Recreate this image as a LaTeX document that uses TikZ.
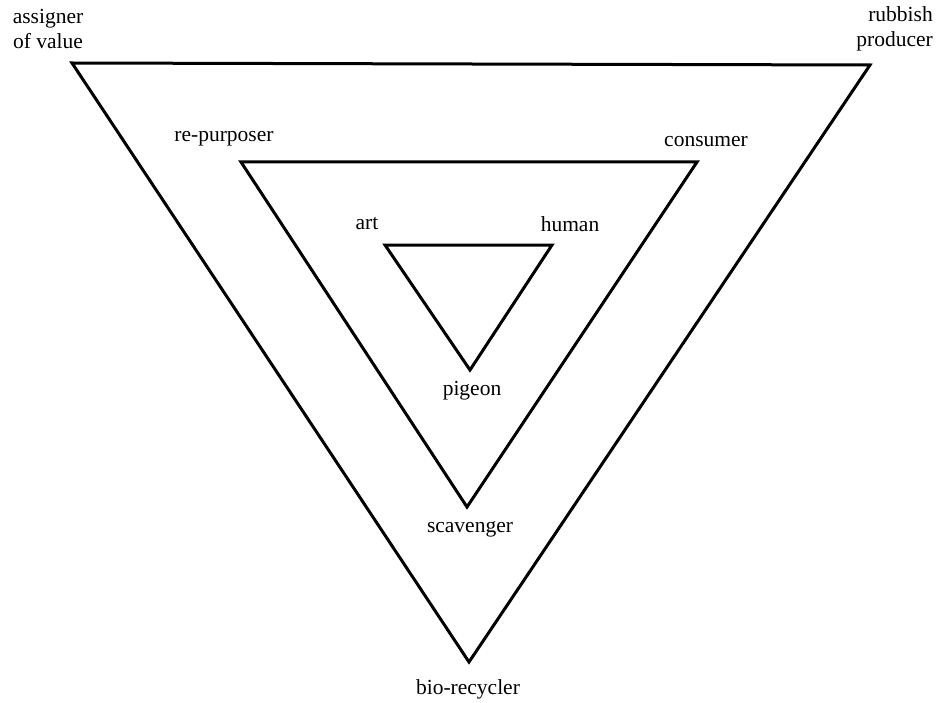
\documentclass[tikz,border=0pt]{standalone}
\usepackage{fontspec}
\setmainfont{Liberation Serif}
\begin{document}
\begin{tikzpicture}[x=1pt,y=-1pt,
  tri/.style={line width=3pt,line join=miter},
  lbl/.style={font=\fontsize{21.5}{25}\selectfont,inner sep=0pt}]
\useasboundingbox (0,0) rectangle (941,703);
\fill[white] (0,0) rectangle (941,703);
% outer
\coordinate (o1) at (72,63);
\coordinate (o2) at (870,65);
\coordinate (o3) at (469,662);
% middle
\coordinate (m1) at (241,162);
\coordinate (m2) at (697,162);
\coordinate (m3) at (467,507);
% inner
\coordinate (i1) at (385,245);
\coordinate (i2) at (552,245);
\coordinate (i3) at (470,370);
\draw[tri] (o1) -- (o2) -- (o3) -- cycle;
\draw[tri] (m1) -- (m2) -- (m3) -- cycle;
\draw[tri] (i1) -- (i2) -- (i3) -- cycle;
\node[lbl,align=center] (av) at (48,29) {assigner\\of value};
\node[lbl,align=right,anchor=east] (rp) at (933,29) {rubbish\\producer};
\node[lbl] (rep) at (224,139) {re-purposer};
\node[lbl] (con) at (706,142) {consumer};
\node[lbl] (art) at (367,224) {art};
\node[lbl] (hum) at (570,224) {human};
\node[lbl] (pig) at (472,391) {pigeon};
\node[lbl] (sca) at (470,529) {scavenger};
\node[lbl] (bio) at (468,689) {bio-recycler};
\end{tikzpicture}
\end{document}
